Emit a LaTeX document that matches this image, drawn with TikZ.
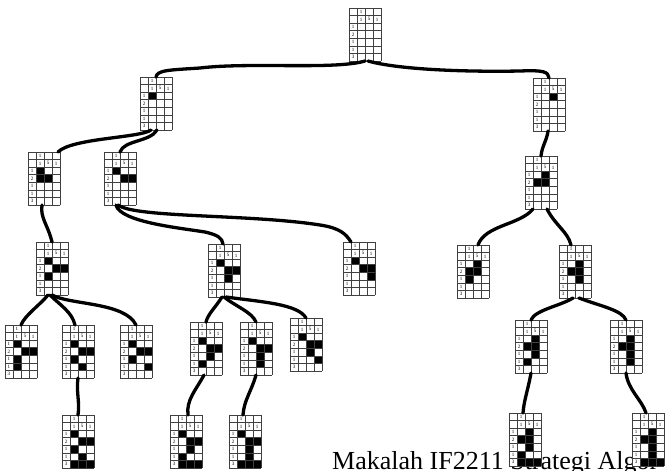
\documentclass[tikz,border=0pt]{standalone}
\usepackage{fontspec}
\setmainfont{Liberation Serif}
\tikzset{
  gridnode/.style={anchor=north west, minimum width=32pt, minimum height=53pt,
                   inner sep=0pt, outer sep=0pt, fill=white},
  gridline/.style={line width=0.45pt, draw=black!75},
  clue/.style={font=\fontsize{5}{5}\selectfont, inner sep=0pt},
  branch/.style={line width=3.3pt, line cap=round, line join=round},
}
\def\cw{8}
\def\ch{7.57}
% nonogram board: name, top-left corner, filled cells as row/column list
\newcommand\ngrid[3]{%
  \node[gridnode] (#1) at (#2) {};
  \begin{scope}[shift={(#1.north west)}]
    \if\relax\detokenize{#3}\relax\else
      \foreach \r/\c in {#3}{\fill ({\c*\cw},{(\r+1)*\ch}) rectangle ++(\cw,\ch);}
    \fi
    \foreach \i in {0,...,4}{\draw[gridline] ({\i*\cw},0) -- ({\i*\cw},{7*\ch});}
    \foreach \j in {0,...,7}{\draw[gridline] (0,{\j*\ch}) -- ({4*\cw},{\j*\ch});}
    \node[clue] (#1-k) at ({1.5*\cw},{0.5*\ch}) {1};
    \node[clue] (#1-a) at ({1.5*\cw},{1.5*\ch}) {1};
    \node[clue] (#1-b) at ({2.5*\cw},{1.5*\ch}) {5};
    \node[clue] (#1-c) at ({3.5*\cw},{1.5*\ch}) {1};
    \foreach \v [count=\n] in {1,2,1,1,3}{\node[clue] (#1-r\n) at ({0.5*\cw},{(\n+1.5)*\ch}) {\v};}
  \end{scope}}
\begin{document}
\begin{tikzpicture}[x=1pt,y=-1pt]
  \useasboundingbox[fill=white] (0,0) rectangle (665,471);

  \node[anchor=base west, font=\fontsize{26}{30}\selectfont, inner sep=0pt]
    (title) at (332,469) {Makalah IF2211 Strategi Algor};

  % level 0
  \ngrid{root}{349,8}{}
  % level 1
  \ngrid{la}{140,77}{1/1}
  \ngrid{ra}{533,78}{1/2}
  % level 2
  \ngrid{laa}{28,152}{1/1,2/1,2/2}
  \ngrid{lab}{104,152}{1/1,2/2,2/3}
  \ngrid{raa}{525,156}{1/2,2/1,2/2}
  % level 3
  \ngrid{p1}{36,242}{1/1,2/2,2/3,3/1}
  \ngrid{p2}{208,244}{1/1,2/2,2/3,3/2}
  \ngrid{p3}{343,242}{1/1,2/2,2/3,3/3}
  \ngrid{p4}{457,245}{1/2,2/1,2/2,3/1}
  \ngrid{p5}{559,245}{1/2,2/1,2/2,3/2}
  % level 4
  \ngrid{q1}{5,325}{1/1,2/2,2/3,3/1,4/1}
  \ngrid{q2}{62,325}{1/1,2/2,2/3,3/1,4/2}
  \ngrid{q3}{120,325}{1/1,2/2,2/3,3/1,4/3}
  \ngrid{q4}{190,322}{1/1,2/2,2/3,3/2,4/1}
  \ngrid{q5}{240,322}{1/1,2/2,2/3,3/2,4/2}
  \ngrid{q6}{290,318}{1/1,2/2,2/3,3/2,4/3}
  \ngrid{q7}{515,320}{1/2,2/1,2/2,3/2,4/1}
  \ngrid{q8}{610,320}{1/2,2/1,2/2,3/2,4/2}
  % level 5
  \ngrid{s1}{62,415}{1/1,2/2,2/3,3/1,4/2,5/1,5/2,5/3}
  \ngrid{s2}{170,415}{1/1,2/2,2/3,3/2,4/1,5/1,5/2,5/3}
  \ngrid{s3}{229,415}{1/1,2/2,2/3,3/2,4/2,5/1,5/2,5/3}
  \ngrid{s4}{509,413}{1/2,2/1,2/2,3/2,4/1,5/1,5/2,5/3}
  \ngrid{s5}{632,413}{1/2,2/1,2/2,3/2,4/2,5/1,5/2,5/3}

  % branches
  \draw[branch] (root.south) .. controls (335,70) and (250,62) .. (200,68)
                .. controls (170,70) and (157,70) .. (la.north);
  \draw[branch] ([xshift=3pt]root.south) .. controls (400,70) and (470,72) .. (520,71)
                .. controls (545,70) and (548,72) .. (ra.north);
  \draw[branch] ([xshift=-5pt]la.south) .. controls (140,138) and (72,138) .. ([xshift=-2pt]laa.north east);
  \draw[branch] ([xshift=1pt]la.south) .. controls (150,142) and (124,140) .. (lab.north);
  \draw[branch] ([xshift=-1pt]ra.south) .. controls (547,140) and (542,146) .. (raa.north);
  \draw[branch] ([xshift=-2pt]laa.south) .. controls (40,218) and (48,225) .. (p1.north);
  \draw[branch] ([xshift=-4pt]lab.south) .. controls (120,222) and (180,228) .. (205,232)
                .. controls (218,235) and (222,238) .. ([xshift=-1pt]p2.north);
  \draw[branch] ([xshift=-2pt]lab.south) .. controls (135,218) and (250,214) .. (320,225)
                .. controls (340,228) and (346,234) .. ([xshift=-8pt]p3.north);
  \draw[branch] ([xshift=-8pt]raa.south) .. controls (520,225) and (485,225) .. ([xshift=5pt]p4.north);
  \draw[branch] ([xshift=6pt]raa.south) .. controls (555,225) and (568,232) .. ([xshift=-4pt]p5.north);
  \draw[branch] ([xshift=-4pt]p1.south) .. controls (40,305) and (25,315) .. (q1.north);
  \draw[branch] ([xshift=-2pt]p1.south) .. controls (60,305) and (72,312) .. ([xshift=-3pt]q2.north);
  \draw[branch] (p1.south) .. controls (70,305) and (125,302) .. (q3.north);
  \draw[branch] ([xshift=-2pt]p2.south) .. controls (215,308) and (208,314) .. (q4.north);
  \draw[branch] (p2.south) .. controls (235,306) and (252,312) .. (q5.north);
  \draw[branch] ([xshift=2pt]p2.south) .. controls (262,302) and (298,304) .. (q6.north);
  \draw[branch] ([xshift=-2pt]p5.south) .. controls (560,306) and (535,310) .. (q7.north);
  \draw[branch] ([xshift=4pt]p5.south) .. controls (600,306) and (622,310) .. (q8.north);
  \draw[branch] (q2.south) .. controls (76,392) and (80,402) .. (s1.north);
  \draw[branch] ([xshift=-2pt]q4.south) .. controls (196,390) and (186,400) .. ([xshift=2pt]s2.north);
  \draw[branch] (q5.south) .. controls (252,390) and (244,400) .. ([xshift=-2pt]s3.north);
  \draw[branch] (q7.south) .. controls (528,390) and (524,400) .. ([xshift=-2pt]s4.north);
  \draw[branch] (q8.south) .. controls (628,390) and (642,400) .. ([xshift=-2pt]s5.north);
\end{tikzpicture}
\end{document}
